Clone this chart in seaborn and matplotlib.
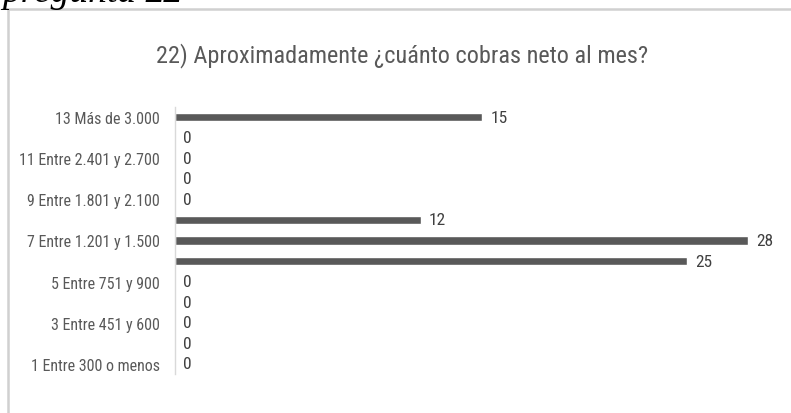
import matplotlib
matplotlib.use("Agg")
import matplotlib.pyplot as plt
from matplotlib.patches import Rectangle
import seaborn as sns
import pandas as pd

categories = [
    "13 Más de 3.000",
    "12 Entre 2.701 y 3.000",
    "11 Entre 2.401 y 2.700",
    "10 Entre 2.101 y 2.400",
    "9 Entre 1.801 y 2.100",
    "8 Entre 1.501 y 1.800",
    "7 Entre 1.201 y 1.500",
    "6 Entre 901 y 1.200",
    "5 Entre 751 y 900",
    "4 Entre 601 y 750",
    "3 Entre 451 y 600",
    "2 Entre 301 y 450",
    "1 Entre 300 o menos",
]
counts = [15, 0, 0, 0, 0, 12, 28, 25, 0, 0, 0, 0, 0]
shown_ticks = [c if int(c.split()[0]) % 2 == 1 else "" for c in categories]

title = "22) Aproximadamente ¿cuánto cobras neto al mes?"
caption_word = "pregunta "
caption_num = "22"

sns.set_theme(style="white")
narrow = ["Roboto Condensed", "Lato", "DejaVu Sans"]
plt.rcParams["font.family"] = narrow

W, H = 791, 414
fig = plt.figure(figsize=(W / 100, H / 100), dpi=100)
fig.patch.set_facecolor("white")

# chart frame
fig.patches.append(Rectangle((8 / W, -0.01), 1.0, 1 - 10 / H + 0.01,
                             transform=fig.transFigure, fill=False,
                             edgecolor="#d0d0d0", linewidth=1.8))

# plot area in pixel terms
left, right = 175, 789
top, bottom = 108, 375
ax = fig.add_axes([left / W, 1 - bottom / H, (right - left) / W, (bottom - top) / H])

df = pd.DataFrame({"cat": categories, "n": counts})
sns.barplot(data=df, y="cat", x="n", orient="h", color="#595959",
            saturation=1, width=0.4, ax=ax)

ax.set_xlim(0, 30)
ax.set_ylim(len(categories) - 0.5, -0.5)
ax.set_xlabel("")
ax.set_ylabel("")
ax.set_xticks([])
ax.set_yticks(range(len(categories)))
ax.set_yticklabels(shown_ticks, fontsize=11.5, color="#595959")
ax.tick_params(axis="y", length=0, pad=11)
for s in ["top", "right", "bottom"]:
    ax.spines[s].set_visible(False)
ax.spines["left"].set_color("#d9d9d9")
ax.spines["left"].set_linewidth(1)

for i, v in enumerate(counts):
    ax.annotate(str(v), xy=(v, i), xytext=(6, 0), textcoords="offset points",
                ha="left", va="center", fontsize=12.5, color="#404040")

fig.text(0.508, 1 - 56 / H, title, ha="center", va="center",
         fontsize=17.5, color="#595959")

serif = ["Liberation Serif", "DejaVu Serif"]
base_y = 1 - 2 / H
cap = fig.text(2 / W, base_y, caption_word, ha="left", va="baseline",
               fontsize=27, style="italic", family=serif, color="black")
num = fig.text(0, base_y, caption_num, ha="left", va="baseline",
               fontsize=27, style="italic", fontweight="bold", family=serif,
               color="black")
fig.canvas.draw()
bb = cap.get_window_extent()
num.set_position((bb.x1 / W, base_y))

fig.savefig("out.png", dpi=100)
